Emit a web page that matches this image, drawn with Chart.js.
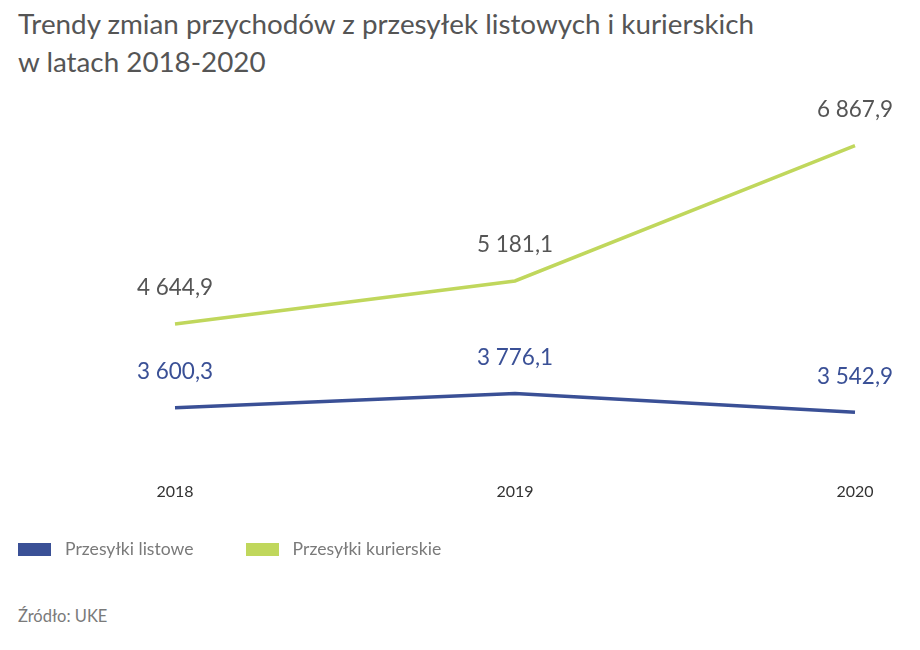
<!DOCTYPE html>
<html lang="pl">

<head>
  <meta charset="UTF-8">
  <meta name="viewport" content="width=device-width, initial-scale=1.0">
  <script src="https://cdn.jsdelivr.net/npm/chart.js"></script>
  <title>Trendy zmian przychodów</title>
  <style>
    body { margin: 0; background: #fff; font-family: Lato, "Open Sans", sans-serif; }
    #title { position: absolute; left: 18px; top: 5px; font-size: 27.8px; line-height: 38px; color: #555; }
    #wrap { position: absolute; left: 0; top: 90px; width: 920px; height: 457px; }
    #legend { position: absolute; left: 18px; top: 538px; font-size: 17.6px; color: #7a7a7a; }
    #legend span.item { display: inline-block; margin-right: 52px; }
    #legend span.box { display: inline-block; width: 33px; height: 13px; margin-right: 14px; vertical-align: -1px; }
    #source { position: absolute; left: 18px; top: 606px; font-size: 16.5px; color: #7a7a7a; }
  </style>
</head>

<body>

  <div id="title">Trendy zmian przychodów z przesyłek listowych i kurierskich<br>w latach 2018-2020</div>
  <div id="wrap">
    <canvas id="myChart"></canvas>
  </div>
  <div id="legend"></div>
  <div id="source">Źródło: UKE</div>

  <script>
    // dane (mln zł)
    const years = ['2018', '2019', '2020'];
    const listowe = [3600.3, 3776.1, 3542.9];
    const kurierskie = [4644.9, 5181.1, 6867.9];

    const navy = 'rgb(58, 80, 150)';
    const green = 'rgb(192, 215, 92)';

    // liczby po polsku: 3 600,3
    function fmt(v) {
      const parts = v.toFixed(1).split('.');
      return parts[0].replace(/\B(?=(\d{3})+(?!\d))/g, ' ') + ',' + parts[1];
    }

    // etykiety nad punktami
    const valueLabels = {
      id: 'valueLabels',
      afterDatasetsDraw(chart) {
        const ctx = chart.ctx;
        ctx.save();
        ctx.font = '22.5px Lato, "Open Sans", sans-serif';
        ctx.textAlign = 'center';
        ctx.textBaseline = 'middle';
        chart.data.datasets.forEach((ds, i) => {
          const meta = chart.getDatasetMeta(i);
          ctx.fillStyle = ds.labelColor;
          meta.data.forEach((pt, j) => {
            ctx.fillText(fmt(ds.data[j]), pt.x, pt.y - 36);
          });
        });
        ctx.restore();
      }
    };

    const myChart = new Chart(document.getElementById('myChart'), {
      type: 'line',
      data: {
        labels: years,
        datasets: [{
          label: 'Przesyłki listowe',
          data: listowe,
          borderColor: navy,
          backgroundColor: navy,
          labelColor: navy,
          borderWidth: 3.5,
          pointRadius: 0,
          tension: 0
        }, {
          label: 'Przesyłki kurierskie',
          data: kurierskie,
          borderColor: green,
          backgroundColor: green,
          labelColor: '#555',
          borderWidth: 3.5,
          pointRadius: 0,
          tension: 0
        }]
      },
      options: {
        responsive: true,
        maintainAspectRatio: false,
        animation: false,
        layout: { padding: { left: 175, right: 65, top: 5, bottom: 20 } },
        plugins: {
          legend: { display: false },
          tooltip: { enabled: false }
        },
        scales: {
          x: {
            offset: false,
            grid: { display: false, drawTicks: false },
            border: { display: false },
            ticks: {
              color: '#333',
              padding: 26,
              font: { family: 'Lato, "Open Sans", sans-serif', size: 16 }
            }
          },
          y: {
            display: false,
            min: 3000,
            max: 7500
          }
        }
      },
      plugins: [valueLabels]
    });

    // legenda
    const legend = document.getElementById('legend');
    myChart.data.datasets.forEach(ds => {
      const item = document.createElement('span');
      item.className = 'item';
      item.innerHTML = '<span class="box" style="background:' + ds.borderColor + '"></span>' + ds.label;
      legend.appendChild(item);
    });
  </script>

</body>

</html>
